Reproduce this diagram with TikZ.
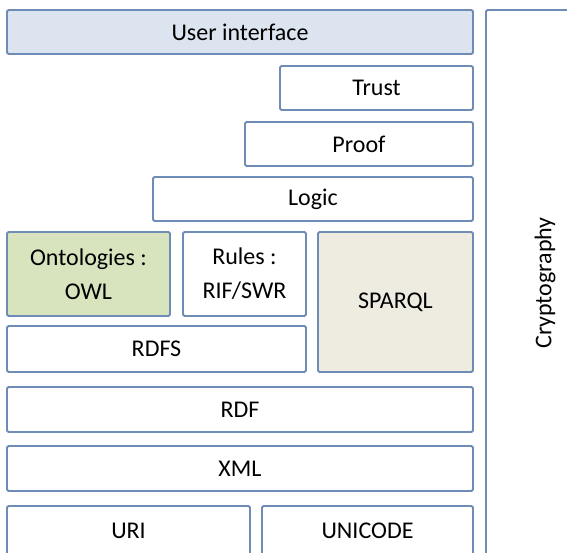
\documentclass[tikz,border=0pt]{standalone}
\usepackage{fontspec}
\setmainfont{Carlito}
\definecolor{layerLine}{HTML}{6F8CB6}
\definecolor{uiFill}{HTML}{DCE4EF}
\definecolor{owlFill}{HTML}{D7E4BD}
\definecolor{sparqlFill}{HTML}{EEECE1}
\tikzset{
	layer/.style={rectangle, draw=layerLine, line width=1.9pt, rounded corners=1.5pt, fill=white, inner sep=0pt, align=center, text=black, font=\fontsize{24}{34}\selectfont}
}
\begin{document}
\begin{tikzpicture}[x=1pt, y=1pt]
	\useasboundingbox (0,0) rectangle (567,552);

		\node[layer, fill=uiFill, minimum width=466, minimum height=44](uiBox) at (240,520){User interface};
		\node[layer, minimum width=193, minimum height=44](trustBox) at (376.5,464){Trust};
		\node[layer, minimum width=228, minimum height=44](proofBox) at (359,408){Proof};
		\node[layer, minimum width=320, minimum height=44](logicBox) at (313,353){Logic};

		\node[layer, fill=owlFill, minimum width=163, minimum height=84](owlBox) at (88.5,278){Ontologies :\\OWL};
		\node[layer, minimum width=123, minimum height=84](rulesBox) at (244.5,278){Rules :\\RIF/SWR};
		\node[layer, fill=sparqlFill, minimum width=155, minimum height=140](sparqlBox) at (395.5,250){SPARQL};
		\node[layer, minimum width=299, minimum height=46](rdfsBox) at (156.5,203){RDFS};

		\node[layer, minimum width=466, minimum height=45](rdfBox) at (240,142.5){RDF};
		\node[layer, minimum width=466, minimum height=45](xmlBox) at (240,83.5){XML};
		\node[layer, minimum width=243, minimum height=50](uriBox) at (128.5,21){URI};
		\node[layer, minimum width=211, minimum height=50](unicodeBox) at (367.5,21){UNICODE};

		\node[layer, rotate=90, minimum width=546, minimum height=118](cryptoBox) at (545,269){Cryptography};
	\end{tikzpicture}
\end{document}
